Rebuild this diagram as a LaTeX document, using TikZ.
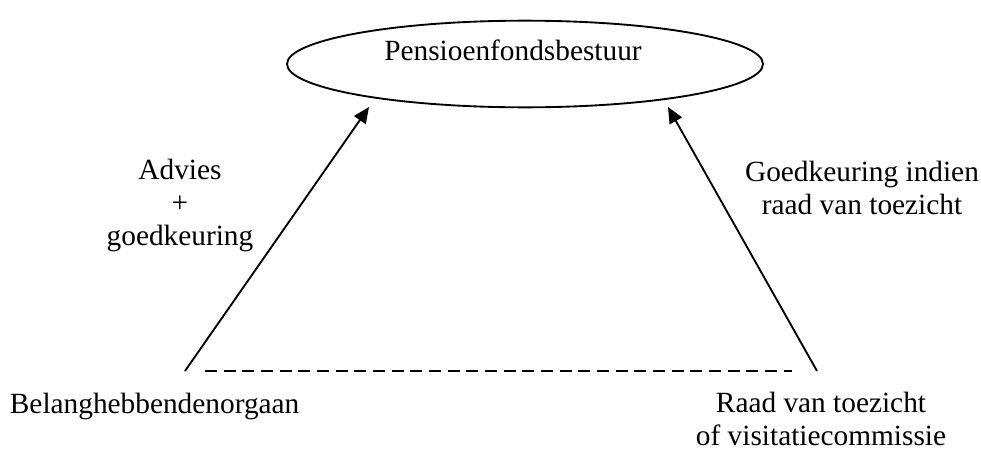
\documentclass[tikz,border=0pt]{standalone}
\usepackage{fontspec}
\setmainfont{Liberation Serif}
\usetikzlibrary{arrows.meta,shapes.geometric}

\begin{document}
\begin{tikzpicture}[x=0.75pt, y=-0.75pt, line width=1.4pt,
    lbl/.style={font=\fontsize{22}{25}\selectfont, align=center, inner sep=0pt},
    pijl/.style={-{Triangle[length=12pt, width=10.5pt]}},
    streep/.style={dash pattern=on 9pt off 5pt}]
  \useasboundingbox (0,0) rectangle (981,450);

  % -- the board at the top: the ellipse, and its name set a little high in it
  \node[draw, ellipse, inner sep=0pt, minimum width=357pt,
    minimum height=65pt] (bestuur) at (525,64) {};
  \node[lbl, anchor=base] (bestuurnaam) at (513,60) {Pensioenfondsbestuur};

  % -- the feet and tips of the two arrows; the tips stop short of the ellipse
  \coordinate (lvoet) at (185,371);
  \coordinate (lpunt) at (369,107);
  \coordinate (rvoet) at (817,371);
  \coordinate (rpunt) at (668,107);

  \draw[pijl] (lvoet) -- (lpunt);
  \draw[pijl] (rvoet) -- (rpunt);
  % dashed link between the two bodies, kept clear of the arrow feet
  \draw[streep, shorten <=15pt, shorten >=18.75pt] (lvoet) -- (rvoet);

  % -- what goes up along each arrow
  \node[lbl, anchor=north] (advies) at (180,158) {Advies\\+\\goedkeuring};
  \node[lbl, anchor=north] (goedk) at (862,160) {Goedkeuring indien\\raad van toezicht};

  % -- the two bodies below
  \node[lbl, anchor=base west] (belang) at (9,413) {Belanghebbendenorgaan};
  \node[lbl, anchor=north] (raad) at (821,391) {Raad van toezicht\\of visitatiecommissie};

\end{tikzpicture}
\end{document}
